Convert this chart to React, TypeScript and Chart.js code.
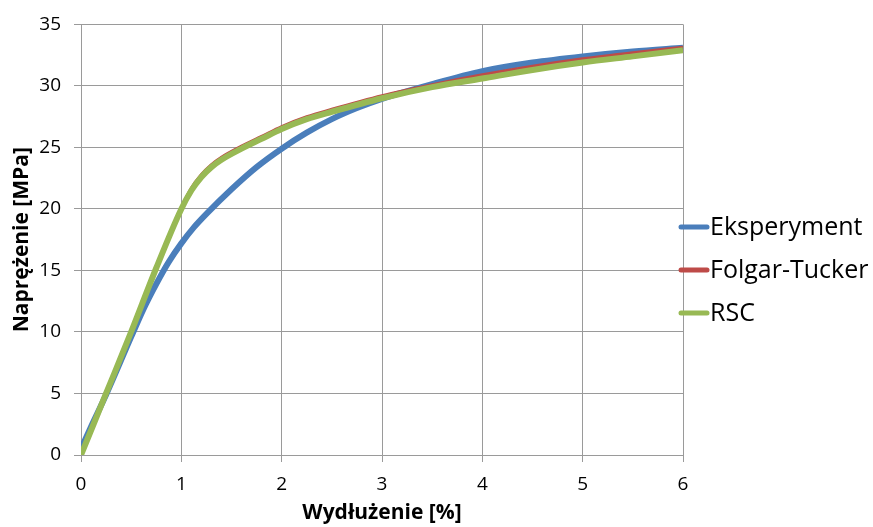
import React, { useEffect, useRef } from "react";
import { Chart, registerables } from "chart.js";

Chart.register(...registerables);

const seriesNames = ["Eksperyment", "Folgar-Tucker", "RSC"];
const seriesColors = ["#4A7EBB", "#BE4B48", "#98B954"];

const expX = [0, 0.1, 0.25, 0.5, 0.625, 0.75, 0.875, 1.0, 1.125, 1.25, 1.5, 1.75, 2.0, 2.25, 2.5, 2.75, 3.0, 3.5, 4.0, 4.5, 5.0, 5.5, 6.0];
const expY = [0.5, 2.3, 4.9, 9.6, 11.9, 13.9, 15.7, 17.2, 18.5, 19.6, 21.6, 23.4, 24.9, 26.2, 27.3, 28.2, 28.95, 30.15, 31.2, 31.9, 32.4, 32.8, 33.1];

const ftX = [0, 0.25, 0.5, 0.75, 1.0, 1.1, 1.2, 1.3, 1.4, 1.6, 1.8, 2.0, 2.25, 2.5, 3.0, 3.5, 4.0, 4.5, 5.0, 5.5, 6.0];
const ftY = [0, 5.0, 10.1, 15.3, 20.1, 21.7, 22.8, 23.6, 24.2, 25.1, 25.9, 26.7, 27.5, 28.1, 29.2, 30.1, 30.9, 31.6, 32.2, 32.7, 33.15];

const rscX = [0, 0.25, 0.5, 0.75, 1.0, 1.1, 1.2, 1.3, 1.4, 1.6, 1.8, 2.0, 2.25, 2.5, 3.0, 3.5, 4.0, 4.5, 5.0, 5.5, 6.0];
const rscY = [0, 5.0, 10.0, 15.2, 20.0, 21.5, 22.6, 23.4, 24.0, 24.9, 25.7, 26.5, 27.3, 27.9, 29.0, 29.9, 30.6, 31.3, 31.9, 32.4, 32.9];

const xTitle = "Wydłużenie [%]";
const yTitle = "Naprężenie [MPa]";

const FONT = "'Open Sans', 'Liberation Sans', sans-serif";
const GRID = "#9a9a9a";

const toPoints = (xs: number[], ys: number[]) => xs.map((x, i) => ({ x, y: ys[i] }));

const sideLegend = {
  id: "sideLegend",
  afterDraw(chart: any) {
    const ctx = chart.ctx as CanvasRenderingContext2D;
    const area = chart.chartArea;
    const x0 = area.right - 2;
    const lineLen = 26;
    const startY = 227;
    const step = 43;
    ctx.save();
    ctx.font = `25px ${FONT}`;
    ctx.textBaseline = "middle";
    ctx.textAlign = "left";
    chart.data.datasets.forEach((ds: any, i: number) => {
      const y = startY + i * step;
      ctx.strokeStyle = ds.borderColor;
      ctx.lineWidth = 5;
      ctx.lineCap = "round";
      ctx.beginPath();
      ctx.moveTo(x0, y);
      ctx.lineTo(x0 + lineLen, y);
      ctx.stroke();
      ctx.fillStyle = "#000";
      ctx.fillText(ds.label, x0 + lineLen + 3, y + 1);
    });
    ctx.restore();
  },
};

export default function App() {
  const ref = useRef<HTMLCanvasElement | null>(null);

  useEffect(() => {
    if (!ref.current) return;
    const chart = new Chart(ref.current, {
      type: "line",
      data: {
        datasets: [
          {
            label: seriesNames[0],
            data: toPoints(expX, expY),
            borderColor: seriesColors[0],
            backgroundColor: seriesColors[0],
            borderWidth: 6,
            pointRadius: 0,
            cubicInterpolationMode: "monotone",
            order: 3,
          },
          {
            label: seriesNames[1],
            data: toPoints(ftX, ftY),
            borderColor: seriesColors[1],
            backgroundColor: seriesColors[1],
            borderWidth: 3,
            pointRadius: 0,
            cubicInterpolationMode: "monotone",
            order: 2,
          },
          {
            label: seriesNames[2],
            data: toPoints(rscX, rscY),
            borderColor: seriesColors[2],
            backgroundColor: seriesColors[2],
            borderWidth: 6,
            pointRadius: 0,
            cubicInterpolationMode: "monotone",
            order: 1,
          },
        ],
      },
      options: {
        responsive: false,
        animation: false,
        devicePixelRatio: 1,
        layout: { padding: { left: 0, right: 190, top: 22, bottom: 0 } },
        plugins: {
          legend: { display: false },
          tooltip: { enabled: false },
        },
        scales: {
          x: {
            type: "linear",
            min: 0,
            max: 6,
            ticks: { stepSize: 1, color: "#000", font: { family: FONT, size: 19 }, padding: 11 },
            grid: { color: GRID, tickLength: 7, lineWidth: 1 },
            border: { color: GRID },
            title: {
              display: true,
              text: xTitle,
              color: "#000",
              font: { family: FONT, size: 21, weight: "bold" },
              padding: { top: 0, bottom: 1 },
            },
            afterFit: (scale: any) => {
              scale.height = 72;
            },
          },
          y: {
            type: "linear",
            min: 0,
            max: 35,
            ticks: { stepSize: 5, color: "#000", font: { family: FONT, size: 19 }, padding: 13 },
            grid: { color: GRID, tickLength: 7, lineWidth: 1 },
            border: { color: GRID },
            title: {
              display: true,
              text: yTitle,
              color: "#000",
              font: { family: FONT, size: 21, weight: "bold" },
              padding: { top: 9, bottom: 0 },
            },
            afterFit: (scale: any) => {
              scale.width = 81;
            },
          },
        },
      },
      plugins: [sideLegend],
    });
    return () => chart.destroy();
  }, []);

  return (
    <div style={{ position: "absolute", left: 0, top: 0, width: 873, height: 527, background: "#fff" }}>
      <canvas ref={ref} width={873} height={527} style={{ width: 873, height: 527, display: "block" }} />
    </div>
  );
}
